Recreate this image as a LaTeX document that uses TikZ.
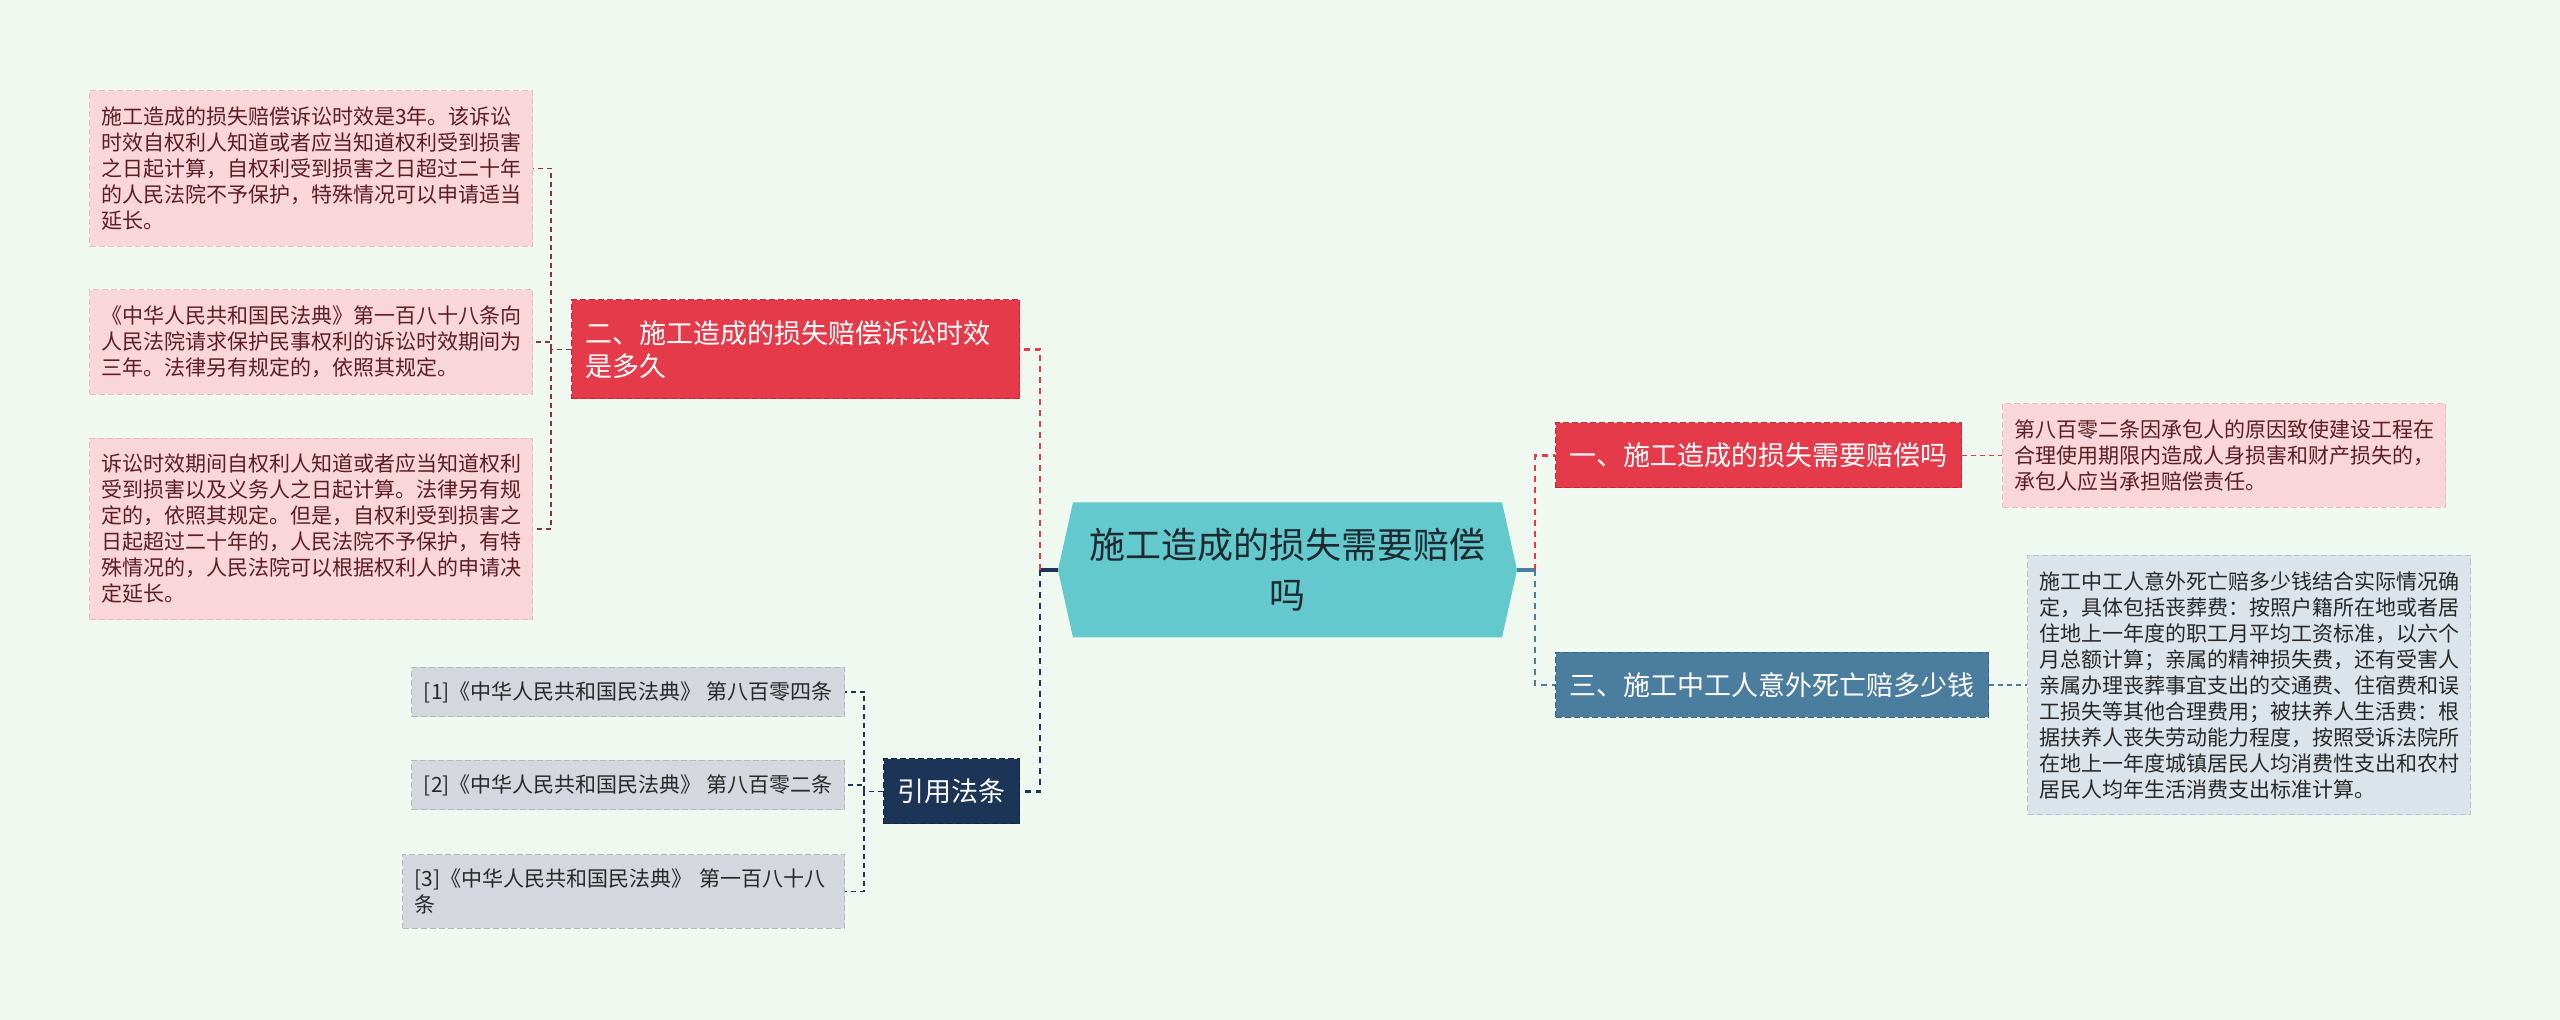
\documentclass[tikz,border=0pt]{standalone}
\usepackage{fontspec}
\setmainfont{Noto Sans CJK SC}
\usepackage{tikz}
\usetikzlibrary{positioning, shapes.symbols}

\definecolor{fond}{RGB}{240,249,240}
\definecolor{turquoise}{RGB}{99,201,204}
\definecolor{encre}{RGB}{30,42,48}
\definecolor{rouge}{RGB}{228,58,74}
\definecolor{rougebord}{RGB}{196,40,56}
\definecolor{marine}{RGB}{28,52,86}
\definecolor{acier}{RGB}{74,125,158}
\definecolor{rose}{RGB}{249,214,218}
\definecolor{rosebord}{RGB}{238,184,192}
\definecolor{brun}{RGB}{92,30,36}
\definecolor{bordeaux}{RGB}{140,50,62}
\definecolor{gris}{RGB}{212,216,222}
\definecolor{grisbleu}{RGB}{220,228,235}
\definecolor{texte}{RGB}{40,40,40}

\begin{document}
\begin{tikzpicture}[
  x=0.5pt, y=-0.5pt,
  centre/.style={
    signal,
    signal to=west and east,
    signal pointer angle=155,
    fill=turquoise,
    text=encre,
    font=\fontsize{18}{25}\selectfont,
    align=center,
    minimum width=229.5pt,
    minimum height=67.5pt,
    inner sep=0pt
  },
  theme/.style={
    fill=rouge,
    draw=rougebord,
    dash pattern=on 3pt off 1.5pt,
    line width=0.5pt,
    text=white,
    font=\fontsize{13.5}{16.5}\selectfont,
    align=left,
    inner xsep=7pt,
    minimum height=32.5pt
  },
  note/.style={
    fill=rose,
    draw=rosebord,
    dash pattern=on 3pt off 1.5pt,
    line width=0.5pt,
    text=brun,
    font=\fontsize{10.5}{13}\selectfont,
    text width=210pt,
    align=left,
    inner xsep=5.75pt,
    inner ysep=8pt
  },
  renvoi/.style={
    fill=gris,
    draw=gris!85!black,
    dash pattern=on 3pt off 1.5pt,
    line width=0.5pt,
    text=texte,
    font=\fontsize{10.5}{13}\selectfont,
    align=left,
    inner xsep=6pt,
    inner ysep=7pt,
    minimum height=24pt
  },
  branche/.style={
    dash pattern=on 3pt off 2.5pt,
    line width=1.25pt
  },
  lien/.style={
    dash pattern=on 2.5pt off 2pt,
    line width=0.9pt
  },
  tige/.style={
    line width=1.6pt
  }
]
  \path[use as bounding box, fill=fond] (0,0) rectangle (2560,1020);

  % Noeud central
  \node[centre] (c) at (1287.5,570) {施工造成的损失需要赔偿\\吗};

  % Côté droit
  \node[theme, anchor=west] (t1) at (1555,455.5) {一、施工造成的损失需要赔偿吗};
  \node[theme, fill=acier, draw=acier!80!black, anchor=west] (t3) at (1555,685) {三、施工中工人意外死亡赔多少钱};
  \node[note, right=20pt of t1] (n1) {第八百零二条因承包人的原因致使建设工程在\\合理使用期限内造成人身损害和财产损失的，\\承包人应当承担赔偿责任。};
  \node[note, fill=grisbleu, draw=grisbleu!85!black, text=texte, right=19pt of t3] (n2) {施工中工人意外死亡赔多少钱结合实际情况确\\定，具体包括丧葬费：按照户籍所在地或者居\\住地上一年度的职工月平均工资标准，以六个\\月总额计算；亲属的精神损失费，还有受害人\\亲属办理丧葬事宜支出的交通费、住宿费和误\\工损失等其他合理费用；被扶养人生活费：根\\据扶养人丧失劳动能力程度，按照受诉法院所\\在地上一年度城镇居民人均消费性支出和农村\\居民人均年生活消费支出标准计算。};

  % Côté gauche
  \node[theme, anchor=east, text width=210pt, minimum height=49.5pt] (t2) at (1020,349.5) {二、施工造成的损失赔偿诉讼时效\\是多久};
  \node[theme, fill=marine, draw=marine!70!black, anchor=east] (t4) at (1020,791.5) {引用法条};

  \node[note, anchor=east] (a1) at (533,168.5) {施工造成的损失赔偿诉讼时效是3年。该诉讼\\时效自权利人知道或者应当知道权利受到损害\\之日起计算，自权利受到损害之日超过二十年\\的人民法院不予保护，特殊情况可以申请适当\\延长。};
  \node[note, anchor=east] (a2) at (533,342) {《中华人民共和国民法典》第一百八十八条向\\人民法院请求保护民事权利的诉讼时效期间为\\三年。法律另有规定的，依照其规定。};
  \node[note, anchor=east] (a3) at (533,529) {诉讼时效期间自权利人知道或者应当知道权利\\受到损害以及义务人之日起计算。法律另有规\\定的，依照其规定。但是，自权利受到损害之\\日起超过二十年的，人民法院不予保护，有特\\殊情况的，人民法院可以根据权利人的申请决\\定延长。};

  \node[renvoi, anchor=east] (r1) at (845,692) {[1]《中华人民共和国民法典》 第八百零四条};
  \node[renvoi, anchor=east] (r2) at (845,785) {[2]《中华人民共和国民法典》 第八百零二条};
  \node[renvoi, anchor=east, text width=209pt] (r3) at (845,891.5) {[3]《中华人民共和国民法典》 第一百八十八\\条};

  % Liaisons principales
  \coordinate (jg) at (1040,570);
  \coordinate (jd) at (1535,570);
  \draw[tige, marine] (c.west) -- (jg);
  \draw[tige, acier] (c.east) -- (jd);
  \draw[branche, rouge] (jg) |- (t2.east);
  \draw[branche, marine] (jg) |- (t4.east);
  \draw[branche, rouge] (jd) |- (t1.west);
  \draw[branche, acier] (jd) |- (t3.west);

  % Sous-branches
  \draw[lien, bordeaux] (t2.west) -- ++(-20,0) coordinate (ja);
  \foreach \n in {a1, a2, a3} {
    \draw[lien, bordeaux] (ja) |- (\n.east);
  }
  \draw[lien, marine] (t4.west) -- ++(-19,0) coordinate (jr);
  \foreach \n in {r1, r2, r3} {
    \draw[lien, marine] (jr) |- (\n.east);
  }
  \draw[lien, rouge] (t1) -- (n1);
  \draw[lien, acier] (t3) -- (n2);
\end{tikzpicture}
\end{document}
